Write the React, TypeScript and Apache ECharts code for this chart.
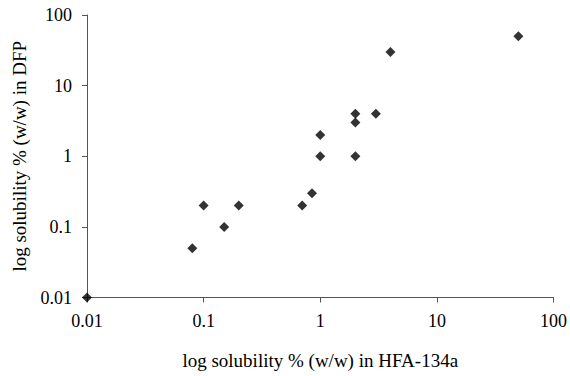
import React, { useEffect, useRef } from "react";
import * as echarts from "echarts";

const xHFA: number[] = [0.01, 0.08, 0.1, 0.15, 0.2, 0.7, 0.85, 1, 1, 2, 2, 2, 3, 4, 50];
const yDFP: number[] = [0.01, 0.05, 0.2, 0.1, 0.2, 0.2, 0.3, 1, 2, 1, 3, 4, 4, 30, 50];
const xTitle = "log solubility % (w/w) in HFA-134a";
const yTitle = "log solubility % (w/w) in DFP";

const FONT = "'Liberation Serif', 'Times New Roman', serif";
const AXIS_COLOR = "#555555";

export default function App() {
  const ref = useRef<HTMLDivElement>(null);
  useEffect(() => {
    if (!ref.current) return;
    const chart = echarts.init(ref.current, undefined, { renderer: "svg" });
    const axisCommon = {
      type: "log" as const,
      logBase: 10,
      min: 0.01,
      max: 100,
      nameLocation: "middle" as const,
      nameTextStyle: { fontFamily: FONT, fontSize: 19, color: "#000" },
      axisLine: { show: true, lineStyle: { color: AXIS_COLOR, width: 1 } },
      axisTick: { show: true, length: 5, inside: false, lineStyle: { color: AXIS_COLOR } },
      minorTick: { show: false },
      splitLine: { show: false },
      axisLabel: {
        fontFamily: FONT,
        fontSize: 18,
        color: "#000",
        formatter: (v: number) => {
          const s = Number(v.toPrecision(2));
          return String(s);
        },
      },
    };
    chart.setOption({
      animation: false,
      backgroundColor: "#fff",
      grid: { left: 87, top: 15, width: 468, height: 282.5, containLabel: false },
      xAxis: {
        ...axisCommon,
        name: xTitle,
        nameGap: 53,
        axisLabel: { ...axisCommon.axisLabel, margin: 14 },
      },
      yAxis: {
        ...axisCommon,
        name: yTitle,
        nameGap: 58,
        axisLabel: { ...axisCommon.axisLabel, margin: 15 },
      },
      series: [
        {
          type: "scatter",
          symbol: "diamond",
          symbolSize: [10, 10],
          itemStyle: { color: "#000" },
          data: xHFA.map((x, i) => [x, yDFP[i]]),
          clip: false,
        },
      ],
    });
    return () => chart.dispose();
  }, []);
  return (
    <div
      ref={ref}
      style={{ position: "fixed", left: 0, top: 0, width: 570, height: 376 }}
    />
  );
}
